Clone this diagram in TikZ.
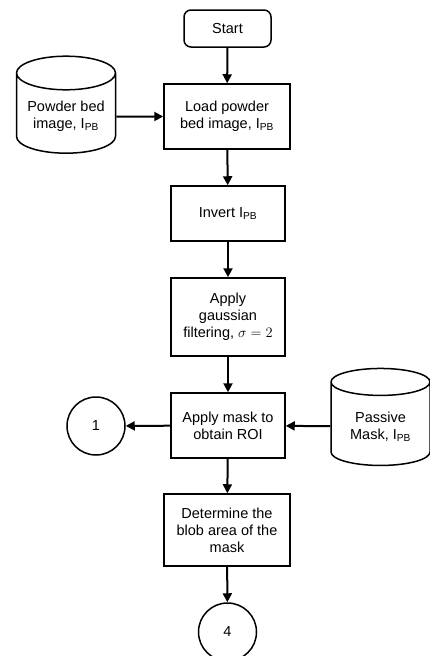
\documentclass[tikz,border=0pt]{standalone}
\usepackage{fontspec}
\setmainfont{Liberation Sans}
\usepackage{tikz}
\usetikzlibrary{arrows.meta,positioning,shapes.geometric}
\newcommand{\Ipb}{I\textsubscript{PB}}

\begin{document}
\begin{tikzpicture}[
  x=1pt,y=-1pt,
  font=\fontsize{14.5}{17}\selectfont,
  >=Triangle,
  process/.style={draw,line width=1.5pt,align=center,inner sep=3pt},
  terminal/.style={draw,line width=1.5pt,rounded corners=7pt,align=center,
    minimum width=87pt,minimum height=37pt},
  store/.style={draw,line width=1.5pt,cylinder,shape border rotate=90,
    aspect=0.4,align=center,minimum width=99pt,minimum height=97pt},
  link/.style={draw,circle,line width=1.5pt,minimum size=58pt,inner sep=0pt},
  arrow/.style={-{Triangle[length=9pt,width=9pt]},line width=2pt}
]
  \useasboundingbox (0,0) rectangle (430,656);

  \node[terminal] (start) at (227.5,28.5) {Start};
  \node[process,minimum width=126pt,minimum height=65pt] (load) at (227,116.5)
    {Load powder\\bed image, \Ipb};
  \node[store] (bed) at (66,116.5) {Powder bed\\image, \Ipb};
  \node[process,minimum width=114pt,minimum height=55pt] (invert) at (228,213.5)
    {Invert \Ipb};
  \node[process,minimum width=114pt,minimum height=78pt] (gauss) at (228,317)
    {Apply\\gaussian\\filtering, $\sigma = 2$};
  \node[process,minimum width=114pt,minimum height=65pt] (mask) at (228,425.5)
    {Apply mask to\\obtain ROI};
  \node[store] (passive) at (380.5,426.5) {Passive\\Mask, \Ipb};
  \node[link] (one) at (96,426) {1};
  \node[process,minimum width=126pt,minimum height=72pt] (blob) at (227,530)
    {Determine the\\blob area of the\\mask};
  \node[link] (four) at (227.5,632) {4};

  \draw[arrow] (start) -- (load);
  \draw[arrow] (bed) -- (load);
  \draw[arrow] (load) -- (invert);
  \draw[arrow] (invert) -- (gauss);
  \draw[arrow] (gauss) -- (mask);
  \draw[arrow] (passive) -- (mask);
  \draw[arrow] (mask) -- (one);
  \draw[arrow] (mask) -- (blob);
  \draw[arrow] (blob) -- (four);
\end{tikzpicture}
\end{document}
